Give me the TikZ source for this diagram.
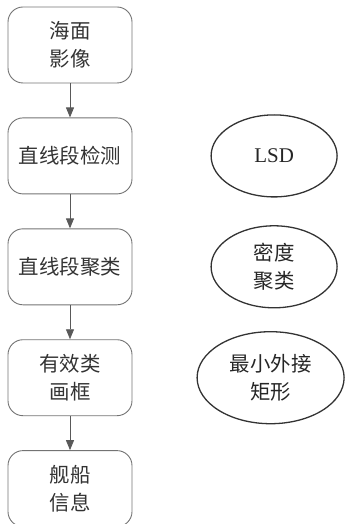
\documentclass[tikz,border=0pt]{standalone}
\usepackage{fontspec}
\setmainfont{Liberation Serif}
\newfontfamily\cjk{Noto Sans CJK SC}
\newfontfamily\latin{Liberation Serif}
\usetikzlibrary{arrows.meta,positioning,shapes.geometric}

\begin{document}
\begin{tikzpicture}[x=1bp,y=-1bp,
  stage/.style={draw=black!55,line width=0.9bp,rounded corners=15bp,
    minimum width=124bp,minimum height=76bp,inner sep=0pt,align=center,
    font=\cjk\fontsize{20.5}{28}\selectfont,text=black!80},
  oval/.style={ellipse,draw=black!80,line width=1.3bp,minimum width=126bp,
    minimum height=82bp,inner sep=0pt,align=center,
    font=\cjk\fontsize{20.5}{28}\selectfont,text=black!85},
  flow/.style={draw=black!65,line width=0.9bp,-{Triangle[length=10bp,width=8bp]}},
  node distance=34bp]
  \useasboundingbox (0,0) rectangle (347,524);

  \node[stage] (b1) at (70,45) {海面\\影像};
  \node[stage] (b2) [below=of b1] {直线段检测};
  \node[stage] (b3) [below=of b2] {直线段聚类};
  \node[stage] (b4) [below=of b3] {有效类\\画框};
  \node[stage] (b5) [below=of b4] {舰船\\信息};

  \node[oval,font=\latin\fontsize{21}{24}\selectfont] (e1) [right=78bp of b2] {LSD};
  \node[oval] (e2) [right=78bp of b3] {密度\\聚类};
  \node[oval,minimum width=147bp,minimum height=92bp] (e3) [right=64bp of b4] {最小外接\\矩形};

  \draw[flow] (b1) -- (b2);
  \draw[flow] (b2) -- (b3);
  \draw[flow] (b3) -- (b4);
  \draw[flow] (b4) -- (b5);
\end{tikzpicture}
\end{document}
